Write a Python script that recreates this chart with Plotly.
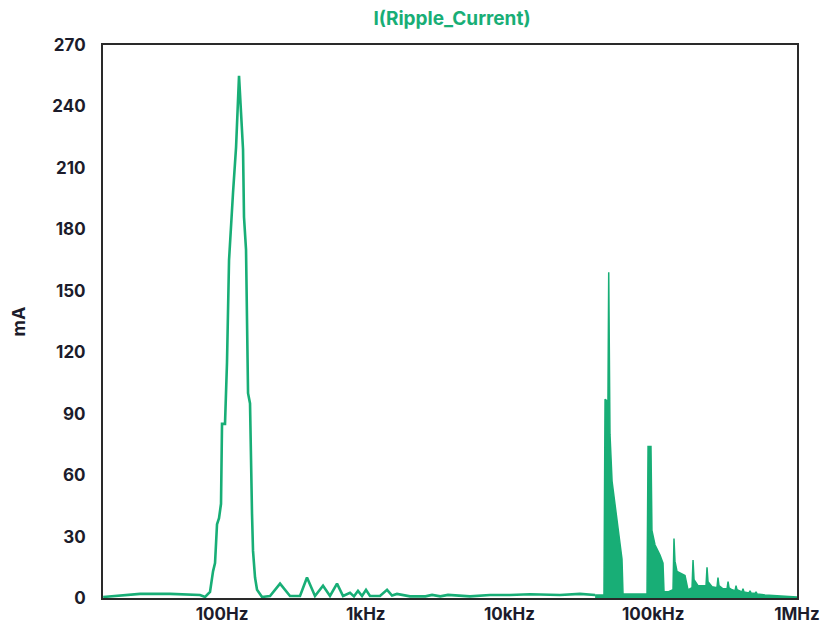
import plotly.graph_objects as go

# Low-frequency part of the spectrum (Hz, mA)
lf_freq = [14.9, 19.5, 26.9, 43.5, 59.9, 70.3, 76.2, 82.5, 86.6, 89.4, 92.3, 95.3, 98.4,
           100.0, 104.9, 106.6, 108.3, 111.9, 115.5, 119.3, 125.2, 131.3, 135.6, 140.0,
           142.2, 146.9, 151.7, 156.6, 161.7, 164.3, 169.7, 175.2, 189.8, 215.8, 253.3,
           297.2, 348.8, 390.0, 443.4, 504.2, 563.9, 631, 695, 777, 828, 883, 942, 1004,
           1070, 1256, 1406, 1523, 1649, 2031, 2600, 2891, 3300, 3733, 5309, 7311, 10080,
           13890, 22440, 30910, 39400]
lf_ma = [0.5, 1.2, 2.0, 2.0, 1.8, 1.5, 0.5, 3, 13, 17, 36, 39, 46,
         85, 85, 101, 115, 165, 185, 198, 220, 255, 237, 219,
         186, 170, 100, 95, 41, 23, 10, 4, 0.5, 1, 7,
         1, 1, 10, 1, 6, 1, 7, 1, 2.5, 0.8, 3.5, 1, 4,
         1, 1, 4, 1.2, 2, 0.8, 0.8, 1.5, 0.8, 1.5, 0.8, 1.5, 1.5,
         1.8, 1.5, 2, 1.5]

# Switching-frequency harmonics cluster (Hz, mA)
hf_freq = [39400, 45400, 46200, 48400, 49000, 49600, 50000, 51700, 54200, 56900, 58700,
           60600, 61600, 74700, 90500, 92000, 96400, 97900, 102800, 111400, 116900,
           118800, 126700, 137200, 139400, 141600, 146300, 166300, 174500, 186100,
           189100, 192200, 204700, 232800, 236600, 240400, 256400, 277500, 282000,
           286500, 305600, 326100, 331400, 336700, 353200, 370600, 376600, 382700,
           414300, 421000, 427800, 463600, 471100, 478700, 510600, 518800, 527200,
           598700, 762000, 1000000]
hf_ma = [1.5, 1.5, 97, 96, 159, 92, 80, 57, 46, 34, 27,
         19, 2, 2, 2, 74, 74, 33, 26, 21, 17,
         3, 3, 4, 29, 18, 13, 11, 4, 5,
         18.5, 9, 6, 6, 15, 8, 5.5, 5, 10,
         6, 4.5, 4.5, 8, 5, 4, 3.5, 6, 4,
         3, 4.5, 3, 2.5, 3.5, 2.5, 2.2, 3, 2,
         1.5, 1, 0.5]

y_ticks = [0, 30, 60, 90, 120, 150, 180, 210, 240, 270]
x_tickvals = [100, 1000, 10000, 100000, 1000000]
x_ticktext = ["100Hz", "1kHz", "10kHz", "100kHz", "1MHz"]

green = "rgb(24,174,118)"
dark = "#1c1c2b"
fam = "Inter, Roboto, sans-serif"

fig = go.Figure()
fig.add_trace(go.Scatter(x=lf_freq, y=lf_ma, mode="lines",
                         line=dict(color=green, width=2.6), showlegend=False))
fig.add_trace(go.Scatter(x=hf_freq, y=hf_ma, mode="lines", fill="tozeroy",
                         fillcolor=green, line=dict(color=green, width=1.5),
                         showlegend=False))

fig.update_layout(
    width=838, height=629,
    margin=dict(l=103, r=41, t=45, b=31, autoexpand=False),
    paper_bgcolor="white", plot_bgcolor="white",
    title=dict(text="I(Ripple_Current)", x=452 / 838, xanchor="center",
               y=1 - 18 / 629, yanchor="middle",
               font=dict(family=fam, size=19, color=green, weight="bold")),
    font=dict(family=fam, color=dark),
)
fig.update_xaxes(type="log", range=[1.172, 6.0], tickvals=x_tickvals, ticktext=x_ticktext,
                 showgrid=False, zeroline=False, showline=True, mirror=True,
                 linecolor="#2a2a2a", linewidth=2, ticks="", automargin=False,
                 ticklabelstandoff=0,
                 tickfont=dict(family=fam, size=17, color=dark, weight="bold"))
fig.update_yaxes(range=[0, 270], tickvals=y_ticks, showgrid=False, zeroline=False,
                 showline=True, mirror=True, linecolor="#2a2a2a", linewidth=2, ticks="",
                 automargin=False, ticklabelstandoff=12,
                 tickfont=dict(family=fam, size=17, color=dark, weight="bold"),
                 title=dict(text="mA", font=dict(family=fam, size=18, color=dark, weight="bold"),
                            standoff=22))

fig.write_html("out.html")
